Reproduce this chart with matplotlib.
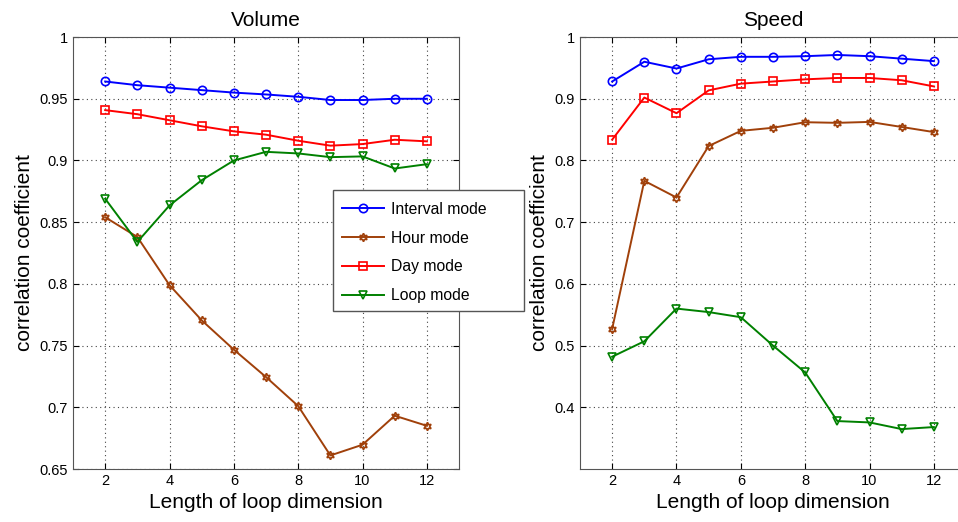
import matplotlib
matplotlib.use("Agg")
import matplotlib.pyplot as plt
from matplotlib.patches import Rectangle

plt.rcParams['font.family'] = ['Liberation Sans', 'DejaVu Sans']

x = list(range(2, 13))

# Volume panel
vol_interval = [0.964, 0.961, 0.959, 0.957, 0.955, 0.9535, 0.9516, 0.949, 0.949, 0.950, 0.950]
vol_hour = [0.854, 0.838, 0.799, 0.7705, 0.7467, 0.7245, 0.701, 0.661, 0.6697, 0.6932, 0.685]
vol_day = [0.9408, 0.9375, 0.9326, 0.9277, 0.9236, 0.9209, 0.916, 0.912, 0.9133, 0.9168, 0.9155]
vol_loop = [0.869, 0.834, 0.8636, 0.884, 0.900, 0.907, 0.9057, 0.9027, 0.9033, 0.8935, 0.897]

# Speed panel
spd_interval = [0.928, 0.960, 0.949, 0.964, 0.968, 0.968, 0.969, 0.971, 0.969, 0.965, 0.961]
spd_hour = [0.527, 0.767, 0.740, 0.8234, 0.848, 0.853, 0.862, 0.861, 0.8625, 0.8543, 0.846]
spd_day = [0.8337, 0.902, 0.8766, 0.9136, 0.9245, 0.928, 0.9315, 0.9337, 0.9337, 0.930, 0.920]
spd_loop = [0.482, 0.507, 0.560, 0.5543, 0.546, 0.500, 0.4565, 0.3777, 0.3755, 0.3647, 0.368]

labels = ["Interval mode", "Hour mode", "Day mode", "Loop mode"]
colors = ["#0000ff", "#a0400a", "#ff0000", "#008000"]
markers = ["o", (6, 1, 0), "s", "v"]

fig = plt.figure(figsize=(9.58, 5.22), dpi=100)
ax1 = fig.add_axes([0.0762, 0.1015, 0.403, 0.8275])
ax2 = fig.add_axes([0.6054, 0.1015, 0.403, 0.8275])


def draw(ax, series, title, ylim, yticks, yticklabels):
    handles = []
    for vals, c, m, lab in zip(series, colors, markers, labels):
        h, = ax.plot(x, vals, color=c, marker=m, markersize=6, mfc="none",
                     mec=c, mew=1.2, lw=1.4, label=lab)
        handles.append(h)
    ax.set_xlim(1, 13)
    ax.set_ylim(*ylim)
    ax.set_xticks([2, 4, 6, 8, 10, 12])
    ax.set_yticks(yticks)
    ax.set_yticklabels(yticklabels)
    ax.grid(True, linestyle=(0, (1, 3)), color="#444444", lw=0.8)
    ax.tick_params(direction="in", top=True, right=True, labelsize=10.5, length=4)
    for s in ax.spines.values():
        s.set_color("#555555")
    ax.set_title(title, fontsize=15, pad=8)
    ax.set_xlabel("Length of loop dimension", fontsize=15, labelpad=4)
    ax.set_ylabel("correlation coefficient", fontsize=15, labelpad=4)
    return handles


handles = draw(ax1, [vol_interval, vol_hour, vol_day, vol_loop], "Volume",
               (0.65, 1.0), [0.65, 0.7, 0.75, 0.8, 0.85, 0.9, 0.95, 1.0],
               ["0.65", "0.7", "0.75", "0.8", "0.85", "0.9", "0.95", "1"])
draw(ax2, [spd_interval, spd_hour, spd_day, spd_loop], "Speed",
     (0.3, 1.0), [0.4, 0.5, 0.6, 0.7, 0.8, 0.9, 1.0],
     ["0.4", "0.5", "0.6", "0.7", "0.8", "0.9", "1"])

# legend frame drawn separately so its width matches the original box
W, H = 958.0, 522.0
box = Rectangle((333 / W, 1 - 311 / H), (524 - 333) / W, (311 - 190) / H,
                transform=fig.transFigure, facecolor="white",
                edgecolor="#555555", lw=1.0, zorder=9)
fig.patches.append(box)

leg = fig.legend(handles=handles, loc="upper left",
                 bbox_to_anchor=(337 / W, 1 - 197 / H), fontsize=11.3,
                 frameon=False, borderpad=0.3, labelspacing=0.88,
                 handlelength=2.7, handletextpad=0.45, borderaxespad=0)
leg.set_zorder(10)

fig.savefig("out.png", dpi=100)
